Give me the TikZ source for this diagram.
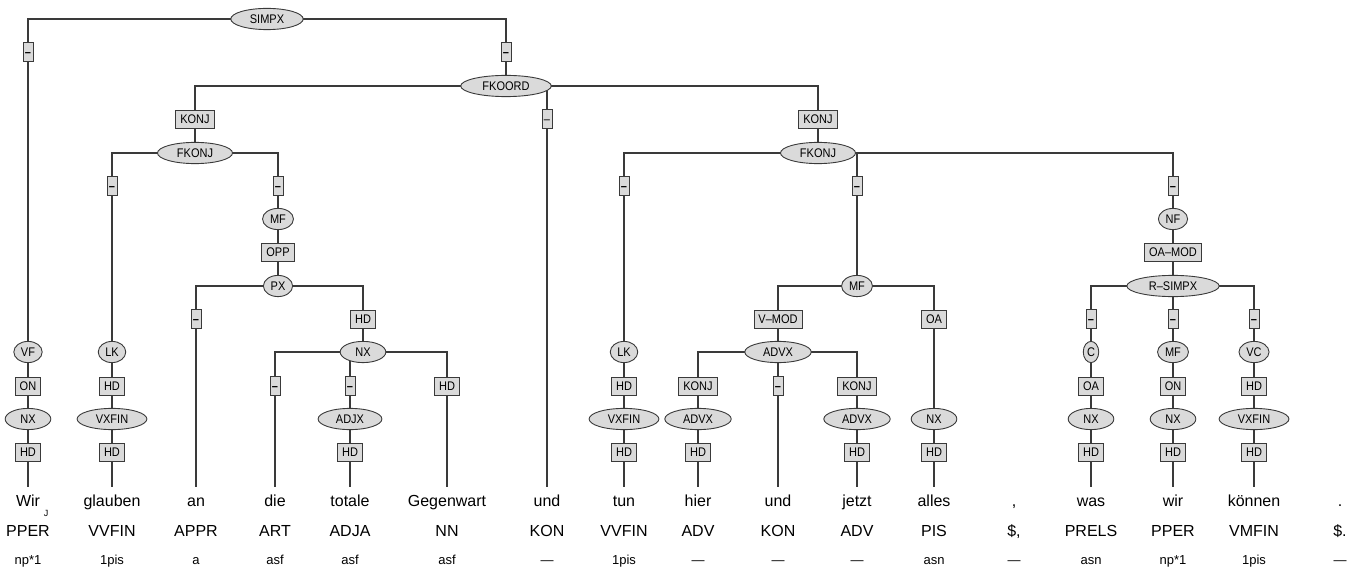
\documentclass[tikz,border=0pt]{standalone}
\usepackage{fontspec}
\setmainfont{Liberation Sans}
\newfontfamily\catfont[FakeStretch=0.88,Ligatures=TeX]{Liberation Sans}
\usepackage{tikz}
\usetikzlibrary{shapes.geometric,backgrounds}
\definecolor{treeline}{HTML}{3A3A3A}
\definecolor{nodefill}{HTML}{DADADA}
\tikzset{
  cat/.style={draw=treeline, fill=nodefill, line width=0.9pt, text height=9pt,
              text depth=0pt, font=\catfont\fontsize{12.5}{13}\selectfont},
  phrase/.style={cat, ellipse, inner xsep=8.5pt, inner ysep=3pt},
  field/.style={cat, ellipse, inner xsep=3pt, inner ysep=3pt},
  func/.style={cat, rectangle, inner xsep=4.5pt, inner ysep=4.5pt},
  nofunc/.style={cat, rectangle, minimum width=10pt, minimum height=19pt, inner sep=0pt},
  edge/.style={draw=treeline, line width=1.2pt},
  word/.style={anchor=base, font=\fontsize{16}{18}\selectfont, text height=12pt,
               text depth=4pt, inner ysep=7pt},
  tagrow/.style={anchor=base, font=\fontsize{16}{18}\selectfont},
  morph/.style={anchor=base, font=\fontsize{13}{15}\selectfont}
}

\begin{document}
\begin{tikzpicture}[x=1pt, y=-1pt]
  \useasboundingbox (0,0) rectangle (1357,572);
  % upper tree
  \node[phrase] (simpx) at (267,19) {SIMPX};
  \node[nofunc] (dA) at (28,52) {\textbf{--}};
  \node[nofunc] (dB) at (506,52) {\textbf{--}};
  \node[phrase] (fkoord) at (506,86) {FKOORD};
  \node[func] (konjA) at (195,119) {KONJ};
  \node[nofunc] (dC) at (547,119) {--};
  \node[func] (konjB) at (818,119) {KONJ};
  \node[phrase] (fkonjA) at (195,153) {FKONJ};
  \node[phrase] (fkonjB) at (818,153) {FKONJ};
  \node[nofunc] (dD) at (112,186) {\textbf{--}};
  \node[nofunc] (dE) at (278,186) {\textbf{--}};
  \node[nofunc] (dF) at (624,186) {\textbf{--}};
  \node[nofunc] (dG) at (857,186) {\textbf{--}};
  \node[nofunc] (dH) at (1173,186) {\textbf{--}};
  \node[field] (mfA) at (278,219) {MF};
  \node[field] (nf) at (1173,219) {NF};
  \node[func] (opp) at (278,252) {OPP};
  \node[func] (oamod) at (1173,252) {OA--MOD};
  \node[field] (px) at (278,286) {PX};
  \node[field] (mfB) at (857,286) {MF};
  \node[phrase] (rsimpx) at (1173,286) {R--SIMPX};
  \node[nofunc] (dI) at (196,319) {\textbf{--}};
  \node[func] (hdA) at (363,319) {HD};
  \node[func] (vmod) at (778,319) {V--MOD};
  \node[func] (oaA) at (934,319) {OA};
  \node[nofunc] (dJ) at (1091,319) {\textbf{--}};
  \node[nofunc] (dK) at (1173,319) {\textbf{--}};
  \node[nofunc] (dL) at (1254,319) {\textbf{--}};
  % lower tree
  \node[field] (vf) at (28,352) {VF};
  \node[field] (lkA) at (112,352) {LK};
  \node[phrase] (nxA) at (363,352) {NX};
  \node[field] (lkB) at (624,352) {LK};
  \node[phrase] (advxA) at (778,352) {ADVX};
  \node[field, inner xsep=1.5pt] (cf) at (1091,352) {C};
  \node[field] (mfC) at (1173,352) {MF};
  \node[field] (vc) at (1254,352) {VC};
  \node[func] (onA) at (28,386) {ON};
  \node[func] (hdB) at (112,386) {HD};
  \node[nofunc] (dM) at (275,386) {\textbf{--}};
  \node[nofunc] (dN) at (350,386) {\textbf{--}};
  \node[func] (hdC) at (447,386) {HD};
  \node[func] (hdD) at (624,386) {HD};
  \node[func] (konjC) at (698,386) {KONJ};
  \node[nofunc] (dO) at (778,386) {\textbf{--}};
  \node[func] (konjD) at (857,386) {KONJ};
  \node[func] (oaB) at (1091,386) {OA};
  \node[func] (onB) at (1173,386) {ON};
  \node[func] (hdE) at (1254,386) {HD};
  \node[phrase] (nxB) at (28,419) {NX};
  \node[phrase] (vxfinA) at (112,419) {VXFIN};
  \node[phrase] (adjx) at (350,419) {ADJX};
  \node[phrase] (vxfinB) at (624,419) {VXFIN};
  \node[phrase] (advxB) at (698,419) {ADVX};
  \node[phrase] (advxC) at (857,419) {ADVX};
  \node[phrase] (nxC) at (934,419) {NX};
  \node[phrase] (nxD) at (1091,419) {NX};
  \node[phrase] (nxE) at (1173,419) {NX};
  \node[phrase] (vxfinC) at (1254,419) {VXFIN};
  \node[func] (hdWir) at (28,452) {HD};
  \node[func] (hdGlauben) at (112,452) {HD};
  \node[func] (hdTotale) at (350,452) {HD};
  \node[func] (hdTun) at (624,452) {HD};
  \node[func] (hdHier) at (698,452) {HD};
  \node[func] (hdJetzt) at (857,452) {HD};
  \node[func] (hdAlles) at (934,452) {HD};
  \node[func] (hdWas) at (1091,452) {HD};
  \node[func] (hdWirB) at (1173,452) {HD};
  \node[func] (hdKoennen) at (1254,452) {HD};
  % tokens, tags, morphology
  \node[word] (w1) at (28,506) {Wir};
  \node[word] (w2) at (112,506) {glauben};
  \node[word] (w3) at (196,506) {an};
  \node[word] (w4) at (275,506) {die};
  \node[word] (w5) at (350,506) {totale};
  \node[word] (w6) at (447,506) {Gegenwart};
  \node[word] (w7) at (547,506) {und};
  \node[word] (w8) at (624,506) {tun};
  \node[word] (w9) at (698,506) {hier};
  \node[word] (w10) at (778,506) {und};
  \node[word] (w11) at (857,506) {jetzt};
  \node[word] (w12) at (934,506) {alles};
  \node[word] (w13) at (1014,506) {,};
  \node[word] (w14) at (1091,506) {was};
  \node[word] (w15) at (1173,506) {wir};
  \node[word] (w16) at (1254,506) {können};
  \node[word] (w17) at (1340,506) {.};
  \node[font=\fontsize{9}{10}\selectfont, inner sep=0pt] (jmark) at (46,513) {J};
  \node[tagrow] (p1) at (28,536) {PPER};
  \node[tagrow] (p2) at (112,536) {VVFIN};
  \node[tagrow] (p3) at (196,536) {APPR};
  \node[tagrow] (p4) at (275,536) {ART};
  \node[tagrow] (p5) at (350,536) {ADJA};
  \node[tagrow] (p6) at (447,536) {NN};
  \node[tagrow] (p7) at (547,536) {KON};
  \node[tagrow] (p8) at (624,536) {VVFIN};
  \node[tagrow] (p9) at (698,536) {ADV};
  \node[tagrow] (p10) at (778,536) {KON};
  \node[tagrow] (p11) at (857,536) {ADV};
  \node[tagrow] (p12) at (934,536) {PIS};
  \node[tagrow] (p13) at (1014,536) {\$,};
  \node[tagrow] (p14) at (1091,536) {PRELS};
  \node[tagrow] (p15) at (1173,536) {PPER};
  \node[tagrow] (p16) at (1254,536) {VMFIN};
  \node[tagrow] (p17) at (1340,536) {\$.};
  \node[morph] (m1) at (28,564) {np*1};
  \node[morph] (m2) at (112,564) {1pis};
  \node[morph] (m3) at (196,564) {a};
  \node[morph] (m4) at (275,564) {asf};
  \node[morph] (m5) at (350,564) {asf};
  \node[morph] (m6) at (447,564) {asf};
  \node[morph] (m7) at (547,564) {---};
  \node[morph] (m8) at (624,564) {1pis};
  \node[morph] (m9) at (698,564) {---};
  \node[morph] (m10) at (778,564) {---};
  \node[morph] (m11) at (857,564) {---};
  \node[morph] (m12) at (934,564) {asn};
  \node[morph] (m13) at (1014,564) {---};
  \node[morph] (m14) at (1091,564) {asn};
  \node[morph] (m15) at (1173,564) {np*1};
  \node[morph] (m16) at (1254,564) {1pis};
  \node[morph] (m17) at (1340,564) {---};

  \begin{scope}[on background layer, every path/.style={edge}]
    \draw (simpx.center) -| (dA.center);
    \draw (simpx.center) -| (dB.center);
    \draw (dB.center) -| (fkoord.center);
    \draw (fkoord.center) -| (konjA.center);
    \draw (fkoord.center) -| (dC.center);
    \draw (fkoord.center) -| (konjB.center);
    \draw (konjA.center) -| (fkonjA.center);
    \draw (konjB.center) -| (fkonjB.center);
    \draw (fkonjA.center) -| (dD.center);
    \draw (fkonjA.center) -| (dE.center);
    \draw (fkonjB.center) -| (dF.center);
    \draw (fkonjB.center) -| (dG.center);
    \draw (fkonjB.center) -| (dH.center);
    \draw (dA.center) -| (vf.center);
    \draw (vf.center) -| (onA.center);
    \draw (onA.center) -| (nxB.center);
    \draw (nxB.center) -| (hdWir.center);
    \draw (dD.center) -| (lkA.center);
    \draw (lkA.center) -| (hdB.center);
    \draw (hdB.center) -| (vxfinA.center);
    \draw (vxfinA.center) -| (hdGlauben.center);
    \draw (dE.center) -| (mfA.center);
    \draw (mfA.center) -| (opp.center);
    \draw (opp.center) -| (px.center);
    \draw (px.center) -| (dI.center);
    \draw (px.center) -| (hdA.center);
    \draw (hdA.center) -| (nxA.center);
    \draw (nxA.center) -| (dM.center);
    \draw (nxA.center) -| (dN.center);
    \draw (nxA.center) -| (hdC.center);
    \draw (dN.center) -| (adjx.center);
    \draw (adjx.center) -| (hdTotale.center);
    \draw (dF.center) -| (lkB.center);
    \draw (lkB.center) -| (hdD.center);
    \draw (hdD.center) -| (vxfinB.center);
    \draw (vxfinB.center) -| (hdTun.center);
    \draw (dG.center) -| (mfB.center);
    \draw (mfB.center) -| (vmod.center);
    \draw (mfB.center) -| (oaA.center);
    \draw (vmod.center) -| (advxA.center);
    \draw (advxA.center) -| (konjC.center);
    \draw (advxA.center) -| (dO.center);
    \draw (advxA.center) -| (konjD.center);
    \draw (konjC.center) -| (advxB.center);
    \draw (advxB.center) -| (hdHier.center);
    \draw (konjD.center) -| (advxC.center);
    \draw (advxC.center) -| (hdJetzt.center);
    \draw (oaA.center) -| (nxC.center);
    \draw (nxC.center) -| (hdAlles.center);
    \draw (dH.center) -| (nf.center);
    \draw (nf.center) -| (oamod.center);
    \draw (oamod.center) -| (rsimpx.center);
    \draw (rsimpx.center) -| (dJ.center);
    \draw (rsimpx.center) -| (dK.center);
    \draw (rsimpx.center) -| (dL.center);
    \draw (dJ.center) -| (cf.center);
    \draw (cf.center) -| (oaB.center);
    \draw (oaB.center) -| (nxD.center);
    \draw (nxD.center) -| (hdWas.center);
    \draw (dK.center) -| (mfC.center);
    \draw (mfC.center) -| (onB.center);
    \draw (onB.center) -| (nxE.center);
    \draw (nxE.center) -| (hdWirB.center);
    \draw (dL.center) -| (vc.center);
    \draw (vc.center) -| (hdE.center);
    \draw (hdE.center) -| (vxfinC.center);
    \draw (vxfinC.center) -| (hdKoennen.center);
    % edges down to the tokens
    \draw (hdWir.center) -- (w1.north);
    \draw (hdGlauben.center) -- (w2.north);
    \draw (dI.center) -- (w3.north);
    \draw (dM.center) -- (w4.north);
    \draw (hdTotale.center) -- (w5.north);
    \draw (hdC.center) -- (w6.north);
    \draw (dC.center) -- (w7.north);
    \draw (hdTun.center) -- (w8.north);
    \draw (hdHier.center) -- (w9.north);
    \draw (dO.center) -- (w10.north);
    \draw (hdJetzt.center) -- (w11.north);
    \draw (hdAlles.center) -- (w12.north);
    \draw (hdWas.center) -- (w14.north);
    \draw (hdWirB.center) -- (w15.north);
    \draw (hdKoennen.center) -- (w16.north);
  \end{scope}
\end{tikzpicture}
\end{document}
